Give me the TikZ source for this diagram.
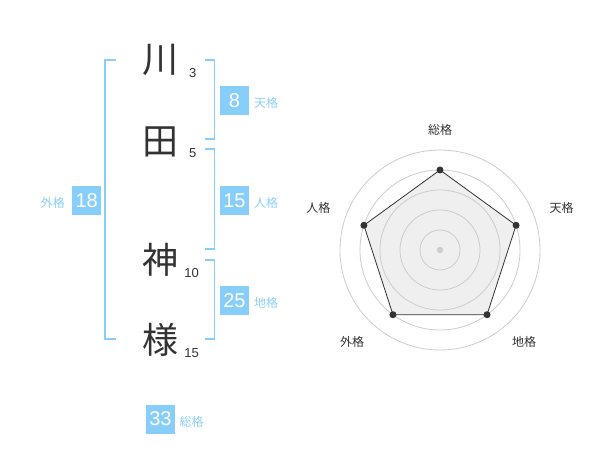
\documentclass[tikz,border=0pt]{standalone}
\usepackage{fontspec}
\setmainfont{Liberation Sans}
\newfontfamily\cjk{Noto Sans CJK JP}
\definecolor{bluebox}{HTML}{87CEFA}
\definecolor{bluetxt}{HTML}{8DD0F8}
\definecolor{ink}{HTML}{333333}
\definecolor{ringc}{HTML}{CCCCCC}
\definecolor{areac}{HTML}{EFEFEF}
\begin{document}
\begin{tikzpicture}[x=1pt,y=-1pt,
  kanji/.style={font=\cjk\fontsize{36}{36}\selectfont, text=ink, inner sep=0pt},
  strokes/.style={font=\fontsize{13}{13}\selectfont, text=ink, inner sep=0pt},
  scorebox/.style={fill=bluebox, text=white, minimum size=29pt, inner sep=0pt, font=\fontsize{20}{20}\selectfont},
  kaku/.style={font=\cjk\fontsize{12}{12}\selectfont, text=bluetxt, inner sep=0pt},
  bracket/.style={draw=bluebox, line width=1.6pt},
  ring/.style={draw=ringc, line width=0.8pt},
  axislbl/.style={font=\cjk\fontsize{12}{12}\selectfont, text=ink, inner sep=0pt},
  vdot/.style={circle, fill=ink, minimum size=7pt, inner sep=0pt}]
\useasboundingbox (0,0) rectangle (600,470);
\fill[white] (0,0) rectangle (600,470);
% characters
\node[kanji] (k1) at (160,60) {川};
\node[kanji] (k2) at (160,141.7) {田};
\node[kanji] (k3) at (160,260) {神};
\node[kanji] (k4) at (160,340) {様};
\node[strokes] (s1) at (192.7,72.7) {3};
\node[strokes] (s2) at (192.7,152.7) {5};
\node[strokes] (s3) at (191.7,272.7) {10};
\node[strokes] (s4) at (191.7,352.7) {15};
% brackets
\draw[bracket] (116,60) -- (105,60) -- (105,339.3) -- (116,339.3);
\draw[bracket] (205.3,60) -- (214.3,60) -- (214.3,139.3) -- (205.3,139.3);
\draw[bracket] (205.3,149.3) -- (214.3,149.3) -- (214.3,249.3) -- (205.3,249.3);
\draw[bracket] (205.3,260) -- (214.3,260) -- (214.3,339.3) -- (205.3,339.3);
% score boxes
\node[scorebox] (ten) at (234.5,100.5) {8};
\node[kaku, anchor=west] (tenl) at (254,103) {天格};
\node[scorebox] (jin) at (234.5,200.3) {15};
\node[kaku, anchor=west] (jinl) at (254,202.5) {人格};
\node[scorebox] (chi) at (234.5,300.5) {25};
\node[kaku, anchor=west] (chil) at (254,303) {地格};
\node[scorebox] (gai) at (86.7,200.3) {18};
\node[kaku, anchor=east] (gail) at (65,202.5) {外格};
\node[scorebox] (sou) at (160.5,419) {33};
\node[kaku, anchor=west] (soul) at (179.5,421.5) {総格};
% radar
\coordinate (c) at (440,250);
\coordinate (pa) at (440,170);
\coordinate (pb) at (516.08,225.28);
\coordinate (pc) at (487.02,314.72);
\coordinate (pd) at (392.98,314.72);
\coordinate (pe) at (363.92,225.28);
\fill[areac] (pa) -- (pb) -- (pc) -- (pd) -- (pe) -- cycle;
\foreach \r in {20,40,60,80,100} \draw[ring] (c) circle (\r);
\fill[ringc] (c) circle (3.2);
\draw[ink, line width=0.8pt] (pa) -- (pb) -- (pc) -- (pd) -- (pe) -- cycle;
\foreach \p in {pa,pb,pc,pd,pe} \node[vdot] at (\p) {};
\node[axislbl] (la) at (440,130) {総格};
\node[axislbl] (lb) at (561.7,208) {天格};
\node[axislbl] (lc) at (524,341.7) {地格};
\node[axislbl] (ld) at (352,341.7) {外格};
\node[axislbl] (le) at (318.3,208) {人格};
\end{tikzpicture}
\end{document}
